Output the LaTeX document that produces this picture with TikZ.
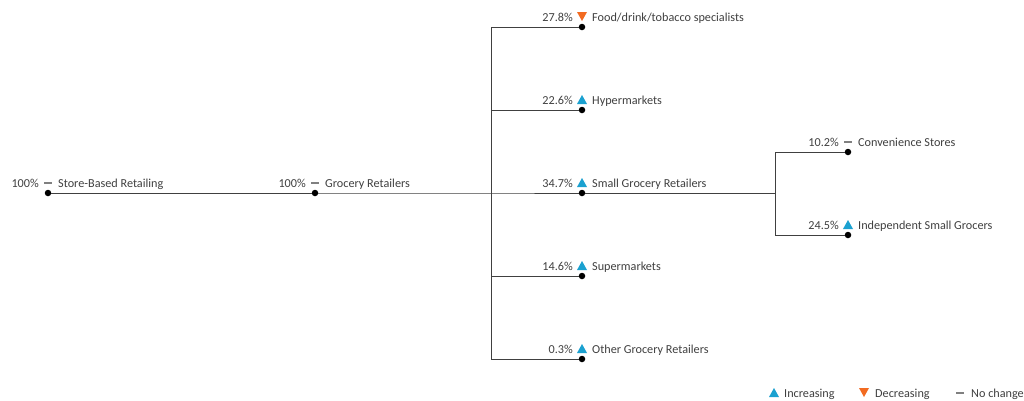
\documentclass[tikz,border=0pt]{standalone}
\usepackage{fontspec}
\setmainfont{Carlito}
\definecolor{txtgray}{HTML}{404040}
\definecolor{incr}{HTML}{1BA1D0}
\definecolor{decr}{HTML}{F26B21}
\tikzset{
	dot/.style={circle, fill=black, inner sep=0pt, minimum size=6.5pt},
	pct/.style={anchor=base east, text=txtgray, font=\fontsize{12.2}{14}\selectfont, inner sep=0pt},
	lbl/.style={anchor=base west, text=txtgray, font=\fontsize{12.2}{14}\selectfont, inner sep=0pt},
	link/.style={draw=txtgray, line width=0.9pt},
	up/.pic={\fill[incr] (-5,4) -- (5,4) -- (0,-5) -- cycle;},
	down/.pic={\fill[decr] (-5,-5) -- (5,-5) -- (0,4) -- cycle;},
	same/.pic={\draw[gray, line width=1.1pt] (-4,0) -- (4,0);}
}
% one entry: dot, marker above it, share to the left, name to the right
\newcommand{\entry}[6]{%
	\node[dot] (#1) at (#2,#3) {};
	\pic at (#2,#3-10) {#5};
	\node[pct] at (#2-9,#3-5.5) {#4};
	\node[lbl] at (#2+10,#3-5.5) {#6};
}
\begin{document}
\begin{tikzpicture}[x=1pt, y=-1pt]
	\useasboundingbox[fill=white] (0,0) rectangle (1024,400);
	\entry{store}{48}{193}{100\%}{same}{Store-Based Retailing}
	\entry{grocery}{315}{193}{100\%}{same}{Grocery Retailers}
	\entry{food}{582}{27}{27.8\%}{down}{Food/drink/tobacco specialists}
	\entry{hyper}{582}{110}{22.6\%}{up}{Hypermarkets}
	\entry{small}{582}{193}{34.7\%}{up}{Small Grocery Retailers}
	\entry{super}{582}{276}{14.6\%}{up}{Supermarkets}
	\entry{other}{582}{359}{0.3\%}{up}{Other Grocery Retailers}
	\entry{conv}{848}{152}{10.2\%}{same}{Convenience Stores}
	\entry{indep}{848}{235}{24.5\%}{up}{Independent Small Grocers}
	\coordinate (split) at (491,193);
	\coordinate (subsplit) at (775,193);
	% connectors
	\draw[link] (store) -- (grocery) -- (split) -- (small);
	\draw[link] (small) -- (subsplit);
	\foreach \n in {food, hyper, super, other}
		\draw[link] (split) |- (\n);
	\draw[link] (subsplit) |- (conv);
	\draw[link] (subsplit) |- (indep);
	% legend
	\pic at (774,393) {up};
	\node[lbl] (inc) at (784,397) {Increasing};
	\pic at (864,393) {down};
	\node[lbl] (dec) at (875,397) {Decreasing};
	\pic at (960,393) {same};
	\node[lbl] (nochg) at (971,397) {No change};
\end{tikzpicture}
\end{document}
